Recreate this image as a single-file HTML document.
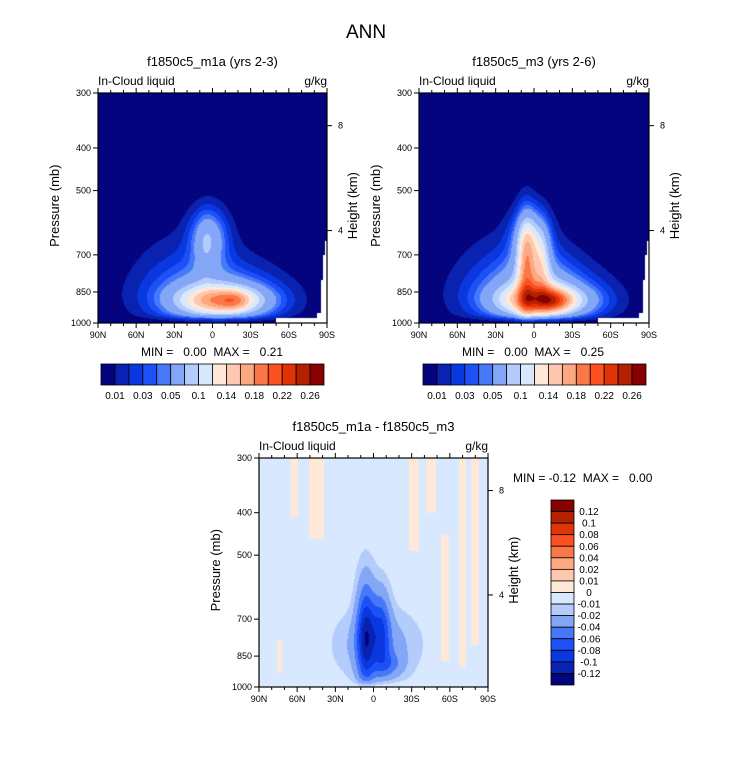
<!DOCTYPE html>
<html><head><meta charset="utf-8">
<style>
body{margin:0;background:#fff;width:733px;height:784px;overflow:hidden;position:relative;font-family:"Liberation Sans",sans-serif;}
canvas{position:absolute;}
svg{position:absolute;left:0;top:0;}
</style></head>
<body>
<canvas id="c1" width="229" height="230" style="left:98px;top:93px"></canvas>
<canvas id="c2" width="230" height="230" style="left:419px;top:93px"></canvas>
<canvas id="c3" width="229" height="229" style="left:259px;top:458px"></canvas>
<svg id="s" width="733" height="784"></svg>
<script>
// ---- data ----
const topLevels=[0.01,0.02,0.03,0.04,0.05,0.08,0.1,0.12,0.14,0.16,0.18,0.2,0.22,0.24,0.26];
const topLabels=["0.01","0.03","0.05","0.1","0.14","0.18","0.22","0.26"];
const diffLevels=[-0.12,-0.1,-0.08,-0.06,-0.04,-0.02,-0.01,0,0.01,0.02,0.04,0.06,0.08,0.1,0.12];
const diffLabels=["-0.12","-0.1","-0.08","-0.06","-0.04","-0.02","-0.01","0","0.01","0.02","0.04","0.06","0.08","0.1","0.12"];
const colors=["#04047e","#0a22b0","#0a38e0","#1e50f8","#4878fa","#84a6f6","#b4ccfc","#d8e8fe","#fee8d8","#fec8b0","#fca880","#fa7848","#fc5020","#e03408","#b42000","#880000"];
const latTicks=[90,60,30,0,-30,-60,-90];
const latTickLabels=["90N","60N","30N","0","30S","60S","90S"];
const presTicks=[300,400,500,700,850,1000];
const heightTicks=[8,4];
// blobs: lat, pressure, sigmaLat, sigmaY, amplitude
const blobsM1a=[[-3,880,34,0.09,0.065],[15,760,33,0.14,0.02],[3,640,10,0.09,0.065],[-8,890,24,0.045,0.11],[-18,890,8,0.03,0.03],[6,700,4,0.1,0.01]];
const blobsM3extra=[[6,760,5,0.16,0.09],[-6,740,5,0.12,0.06],[-3,800,20,0.1,0.03],[-12,890,8,0.04,0.03]];
// positive stripes in difference: lat center, half width, p top, p bottom
const diffStripes=[[-32,4,300,490],[-45,4,300,400],[-56,3,450,870],[-70,3,300,900],[-80,3,300,800],[62,3,300,410],[45,6,300,460],[74,2,780,930]];
const diffOffset=-0.004;
// missing data mask (lat, pressure) polygon
const maskPoly=[[-90,650],[-88.4,650],[-88.4,700],[-86.6,700],[-86.6,800],[-85,800],[-85,950],[-82,950],[-82,975],[-50,975],[-50,1000],[-90,1000]];
const stats=[["0.00","0.21"],["0.00","0.25"],["-0.12","0.00"]];

// ---- scales ----
const L=Math.log(1000/300);
function yf(p){return Math.log(p/300)/L;}
function pAt(y){return 300*Math.exp(y*L);}
function field(blobs,lat,p){
  const y=yf(p);let v=0;
  for(const b of blobs){const dl=(lat-b[0])/b[2],dy=(y-yf(b[1]))/b[3];v+=b[4]*Math.exp(-(dl*dl+dy*dy)/2);}
  return v*(1-0.8*Math.exp(-Math.pow((1-y)/0.025,2)));
}
function f1(lat,p){return field(blobsM1a,lat,p);}
function f2(lat,p){return field(blobsM1a,lat,p)+field(blobsM3extra,lat,p);}
function fd(lat,p){
  let v=f1(lat,p)-f2(lat,p)+diffOffset;
  for(const s of diffStripes){if(Math.abs(lat-s[0])<s[1]&&p>=s[2]&&p<=s[3])v+=0.01;}
  return v;
}
function idx(v,lv){let i=0;while(i<lv.length&&v>=lv[i])i++;return i;}
function hex(c){return [parseInt(c.slice(1,3),16),parseInt(c.slice(3,5),16),parseInt(c.slice(5,7),16)];}
const rgb=colors.map(hex);
function inMask(lat,p){
  let ins=false;const n=maskPoly.length;
  for(let i=0,j=n-1;i<n;j=i++){const a=maskPoly[i],b=maskPoly[j];
    if((a[1]>p)!=(b[1]>p)&&lat<(b[0]-a[0])*(p-a[1])/(b[1]-a[1])+a[0])ins=!ins;}
  return ins;
}
function paint(id,fn,lv,mask){
  const c=document.getElementById(id),ctx=c.getContext('2d'),W=c.width,H=c.height;
  const img=ctx.createImageData(W,H);
  for(let j=0;j<H;j++){const p=pAt((j+0.5)/H);
    for(let i=0;i<W;i++){const lat=90-(i+0.5)/W*180;const k=(j*W+i)*4;
      let col=[255,255,255];
      if(!(mask&&inMask(lat,p)))col=rgb[idx(fn(lat,p),lv)];
      img.data[k]=col[0];img.data[k+1]=col[1];img.data[k+2]=col[2];img.data[k+3]=255;}}
  ctx.putImageData(img,0,0);
}
paint('c1',f1,topLevels,true);
paint('c2',f2,topLevels,true);
paint('c3',fd,diffLevels,false);

// ---- svg ----
const S=document.getElementById('s');const NS="http://www.w3.org/2000/svg";
function el(t,a,txt){const e=document.createElementNS(NS,t);for(const k in a)e.setAttribute(k,a[k]);if(txt!==undefined)e.textContent=txt;S.appendChild(e);return e;}
function heightP(z){return 1013.25*Math.pow(1-2.25577e-5*z*1000,5.256);}
function panel(x0,y0,w,h,title,st,name){
  const X=lat=>x0+(90-lat)/180*w, Y=p=>y0+yf(p)*h;
  let t=el('text',{x:x0+w/2,y:y0-27,'font-size':13,'text-anchor':'middle'},title);
  
  t=el('text',{x:x0,y:y0-8,'font-size':12},'In-Cloud liquid');
  
  t=el('text',{x:x0+w,y:y0-8,'font-size':12,'text-anchor':'end'},'g/kg');
  
  let r=el('rect',{x:x0,y:y0,width:w,height:h,fill:'none',stroke:'#000','stroke-width':1.2});
  
  for(let lat=90;lat>=-90;lat-=10){const major=lat%30===0;const len=major?5:3;const x=X(lat);
    el('line',{x1:x,x2:x,y1:y0,y2:y0-len,stroke:'#000','stroke-width':1});
    el('line',{x1:x,x2:x,y1:y0+h,y2:y0+h+len,stroke:'#000','stroke-width':1});}
  latTicks.forEach((lat,i)=>{const tt=el('text',{x:X(lat),y:y0+h+15,'font-size':9,'text-anchor':'middle'},latTickLabels[i]);
    });
  presTicks.forEach(p=>{const y=Y(p);el('line',{x1:x0,x2:x0-5,y1:y,y2:y,stroke:'#000','stroke-width':1});
    const tt=el('text',{x:x0-7,y:y+3,'font-size':9,'text-anchor':'end'},String(p));
    });
  heightTicks.forEach(z=>{const y=Y(heightP(z));el('line',{x1:x0+w,x2:x0+w+5,y1:y,y2:y,stroke:'#000','stroke-width':1});
    const tt=el('text',{x:x0+w+11,y:y+3,'font-size':9},String(z));
    });
  const cy=y0+h*0.49;
  t=el('text',{x:x0-39,y:cy,'font-size':13,'text-anchor':'middle',transform:`rotate(-90 ${x0-39} ${cy})`},'Pressure (mb)');
  
  t=el('text',{x:x0+w+30,y:cy,'font-size':13,'text-anchor':'middle',transform:`rotate(-90 ${x0+w+30} ${cy})`},'Height (km)');
  
}
let t=el('text',{x:366,y:38,'font-size':19,'text-anchor':'middle'},'ANN');

panel(98,93,229,230,'f1850c5_m1a (yrs 2-3)',stats[0],'m1a');
panel(419,93,230,230,'f1850c5_m3 (yrs 2-6)',stats[1],'m3');
panel(259,458,229,229,'f1850c5_m1a - f1850c5_m3',stats[2],'diff');
function minmax(x,y,s,anchor,name){
  const tt=el('text',{x:x,y:y,'font-size':12,'text-anchor':anchor,style:'white-space:pre'},`MIN = ${s[0].startsWith('-')?'':'  '}${s[0]}  MAX = ${s[1].startsWith('-')?'':'  '}${s[1]}`);
  
}
minmax(212,356,stats[0],'middle','m1a-min-max');
minmax(533,356,stats[1],'middle','m3-min-max');
minmax(513,482,stats[2],'start','diff-min-max');
function hbar(x0,y0,w,h,name){
  const bw=w/colors.length;
  colors.forEach((c,i)=>{const r=el('rect',{x:x0+i*bw,y:y0,width:bw,height:h,fill:c,stroke:'#000','stroke-width':0.8});
    });
  topLabels.forEach((lb,i)=>{const tt=el('text',{x:x0+(2*i+1)*bw,y:y0+h+14,'font-size':10,'text-anchor':'middle'},lb);
    });
}
hbar(101,364,223,21,'m1a-colorbar');
hbar(423,364,223,21,'m3-colorbar');
(function(){const x0=551,y0=500,w=23,h=185,bh=h/colors.length;
  colors.slice().reverse().forEach((c,i)=>{const r=el('rect',{x:x0,y:y0+i*bh,width:w,height:bh,fill:c,stroke:'#000','stroke-width':0.8});
    });
  diffLabels.slice().reverse().forEach((lb,i)=>{const tt=el('text',{x:x0+w+15,y:y0+(i+1)*bh+3.5,'font-size':10,'text-anchor':'middle'},lb);
    });
})();
</script>
</body></html>
